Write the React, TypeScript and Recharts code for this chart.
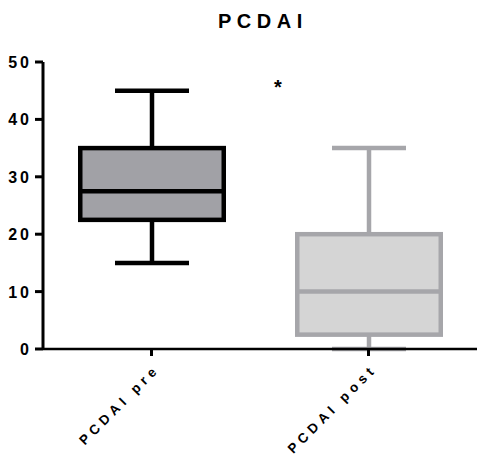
import React from "react";
import { ComposedChart, Bar, XAxis, YAxis, Customized } from "recharts";

// Five-number summaries for each group
const groups = ["PCDAI pre", "PCDAI post"];
const mins = [15, 0];
const q1s = [22.5, 2.5];
const medians = [27.5, 10];
const q3s = [35, 20];
const maxes = [45, 35];

const yTicks = [0, 10, 20, 30, 40, 50];

const fills = ["#a1a1a6", "#d5d5d5"];
const strokes = ["#000000", "#a6a6aa"];

const data = groups.map((name, i) => ({
  name,
  min: mins[i],
  q1: q1s[i],
  median: medians[i],
  q3: q3s[i],
  max: maxes[i],
  fill: fills[i],
  stroke: strokes[i],
}));

const FONT = "Liberation Sans, Arial, sans-serif";
const SW = 4.5;

// axis strokes are forced through CSS so the thick black look sticks
const axisCss = `
.recharts-yAxis .recharts-cartesian-axis-line,
.recharts-yAxis .recharts-cartesian-axis-tick-line { stroke: #000 !important; stroke-width: 3px !important; }
.recharts-xAxis .recharts-cartesian-axis-line { stroke: #000 !important; stroke-width: 2.5px !important; }
.recharts-xAxis .recharts-cartesian-axis-tick-line { stroke: #000 !important; stroke-width: 3px !important; }
`;

const BoxShape = (props: any) => {
  const { x, y, width, height, payload } = props;
  const top = Math.min(y, y + height);
  const bottom = Math.max(y, y + height);
  const span = payload.max - payload.min;
  const toY = (v: number) => top + ((bottom - top) * (payload.max - v)) / span;
  const cx = x + width / 2;
  const capHalf = width / 4;
  const yQ3 = toY(payload.q3);
  const yQ1 = toY(payload.q1);
  const yMed = toY(payload.median);
  const c = payload.stroke;
  return (
    <g>
      <line x1={cx} x2={cx} y1={top} y2={yQ3} stroke={c} strokeWidth={SW} />
      <line x1={cx} x2={cx} y1={yQ1} y2={bottom} stroke={c} strokeWidth={SW} />
      <line x1={cx - capHalf} x2={cx + capHalf} y1={top} y2={top} stroke={c} strokeWidth={SW} />
      <line x1={cx - capHalf} x2={cx + capHalf} y1={bottom} y2={bottom} stroke={c} strokeWidth={SW} />
      <rect
        x={x + SW / 2}
        y={yQ3}
        width={width - SW}
        height={yQ1 - yQ3}
        fill={payload.fill}
        stroke={c}
        strokeWidth={SW}
      />
      <line x1={x + SW / 2} x2={x + width - SW / 2} y1={yMed} y2={yMed} stroke={c} strokeWidth={SW} />
    </g>
  );
};

const textStyle = { fontFamily: FONT, fontWeight: 700, fill: "#000" };

const GroupTick = (props: any) => {
  const { x, y, payload } = props;
  return (
    <g transform={`translate(${x + 9},${y + 12})`}>
      <text
        x={0}
        y={0}
        textAnchor="end"
        transform="rotate(-45)"
        style={{ ...textStyle, fontSize: 13.5, letterSpacing: 4.5 }}
      >
        {payload.value}
      </text>
    </g>
  );
};

const ValueTick = (props: any) => {
  const { x, y, payload } = props;
  return (
    <text x={x} y={y} dy={6} textAnchor="end" style={{ ...textStyle, fontSize: 16, letterSpacing: 3 }}>
      {payload.value}
    </text>
  );
};

const Annotations = () => (
  <g>
    <text x={218} y={28} style={{ ...textStyle, fontSize: 20, letterSpacing: 5.5 }}>
      PCDAI
    </text>
    <text x={278} y={94} textAnchor="middle" style={{ ...textStyle, fontSize: 20 }}>
      *
    </text>
  </g>
);

export default function App() {
  return (
    <div style={{ position: "absolute", left: 0, top: 0, width: 477, height: 463, background: "#fff" }}>
      <style>{axisCss}</style>
      <ComposedChart width={477} height={463} data={data} margin={{ top: 62, right: 0, bottom: 0, left: 0 }}>
        <XAxis
          dataKey="name"
          height={114}
          axisLine={{ stroke: "#000", strokeWidth: 2.5 }}
          tickLine={{ stroke: "#000", strokeWidth: 3 }}
          tickSize={7}
          tick={<GroupTick />}
          interval={0}
        />
        <YAxis
          width={43}
          domain={[0, 50]}
          ticks={yTicks}
          axisLine={{ stroke: "#000", strokeWidth: 3 }}
          tickLine={{ stroke: "#000", strokeWidth: 3 }}
          tickSize={8}
          tickMargin={3}
          tick={<ValueTick />}
        />
        <Bar
          dataKey={(d: any) => [d.min, d.max]}
          barSize={148}
          shape={<BoxShape />}
          isAnimationActive={false}
        />
        <Customized component={Annotations} />
      </ComposedChart>
    </div>
  );
}
